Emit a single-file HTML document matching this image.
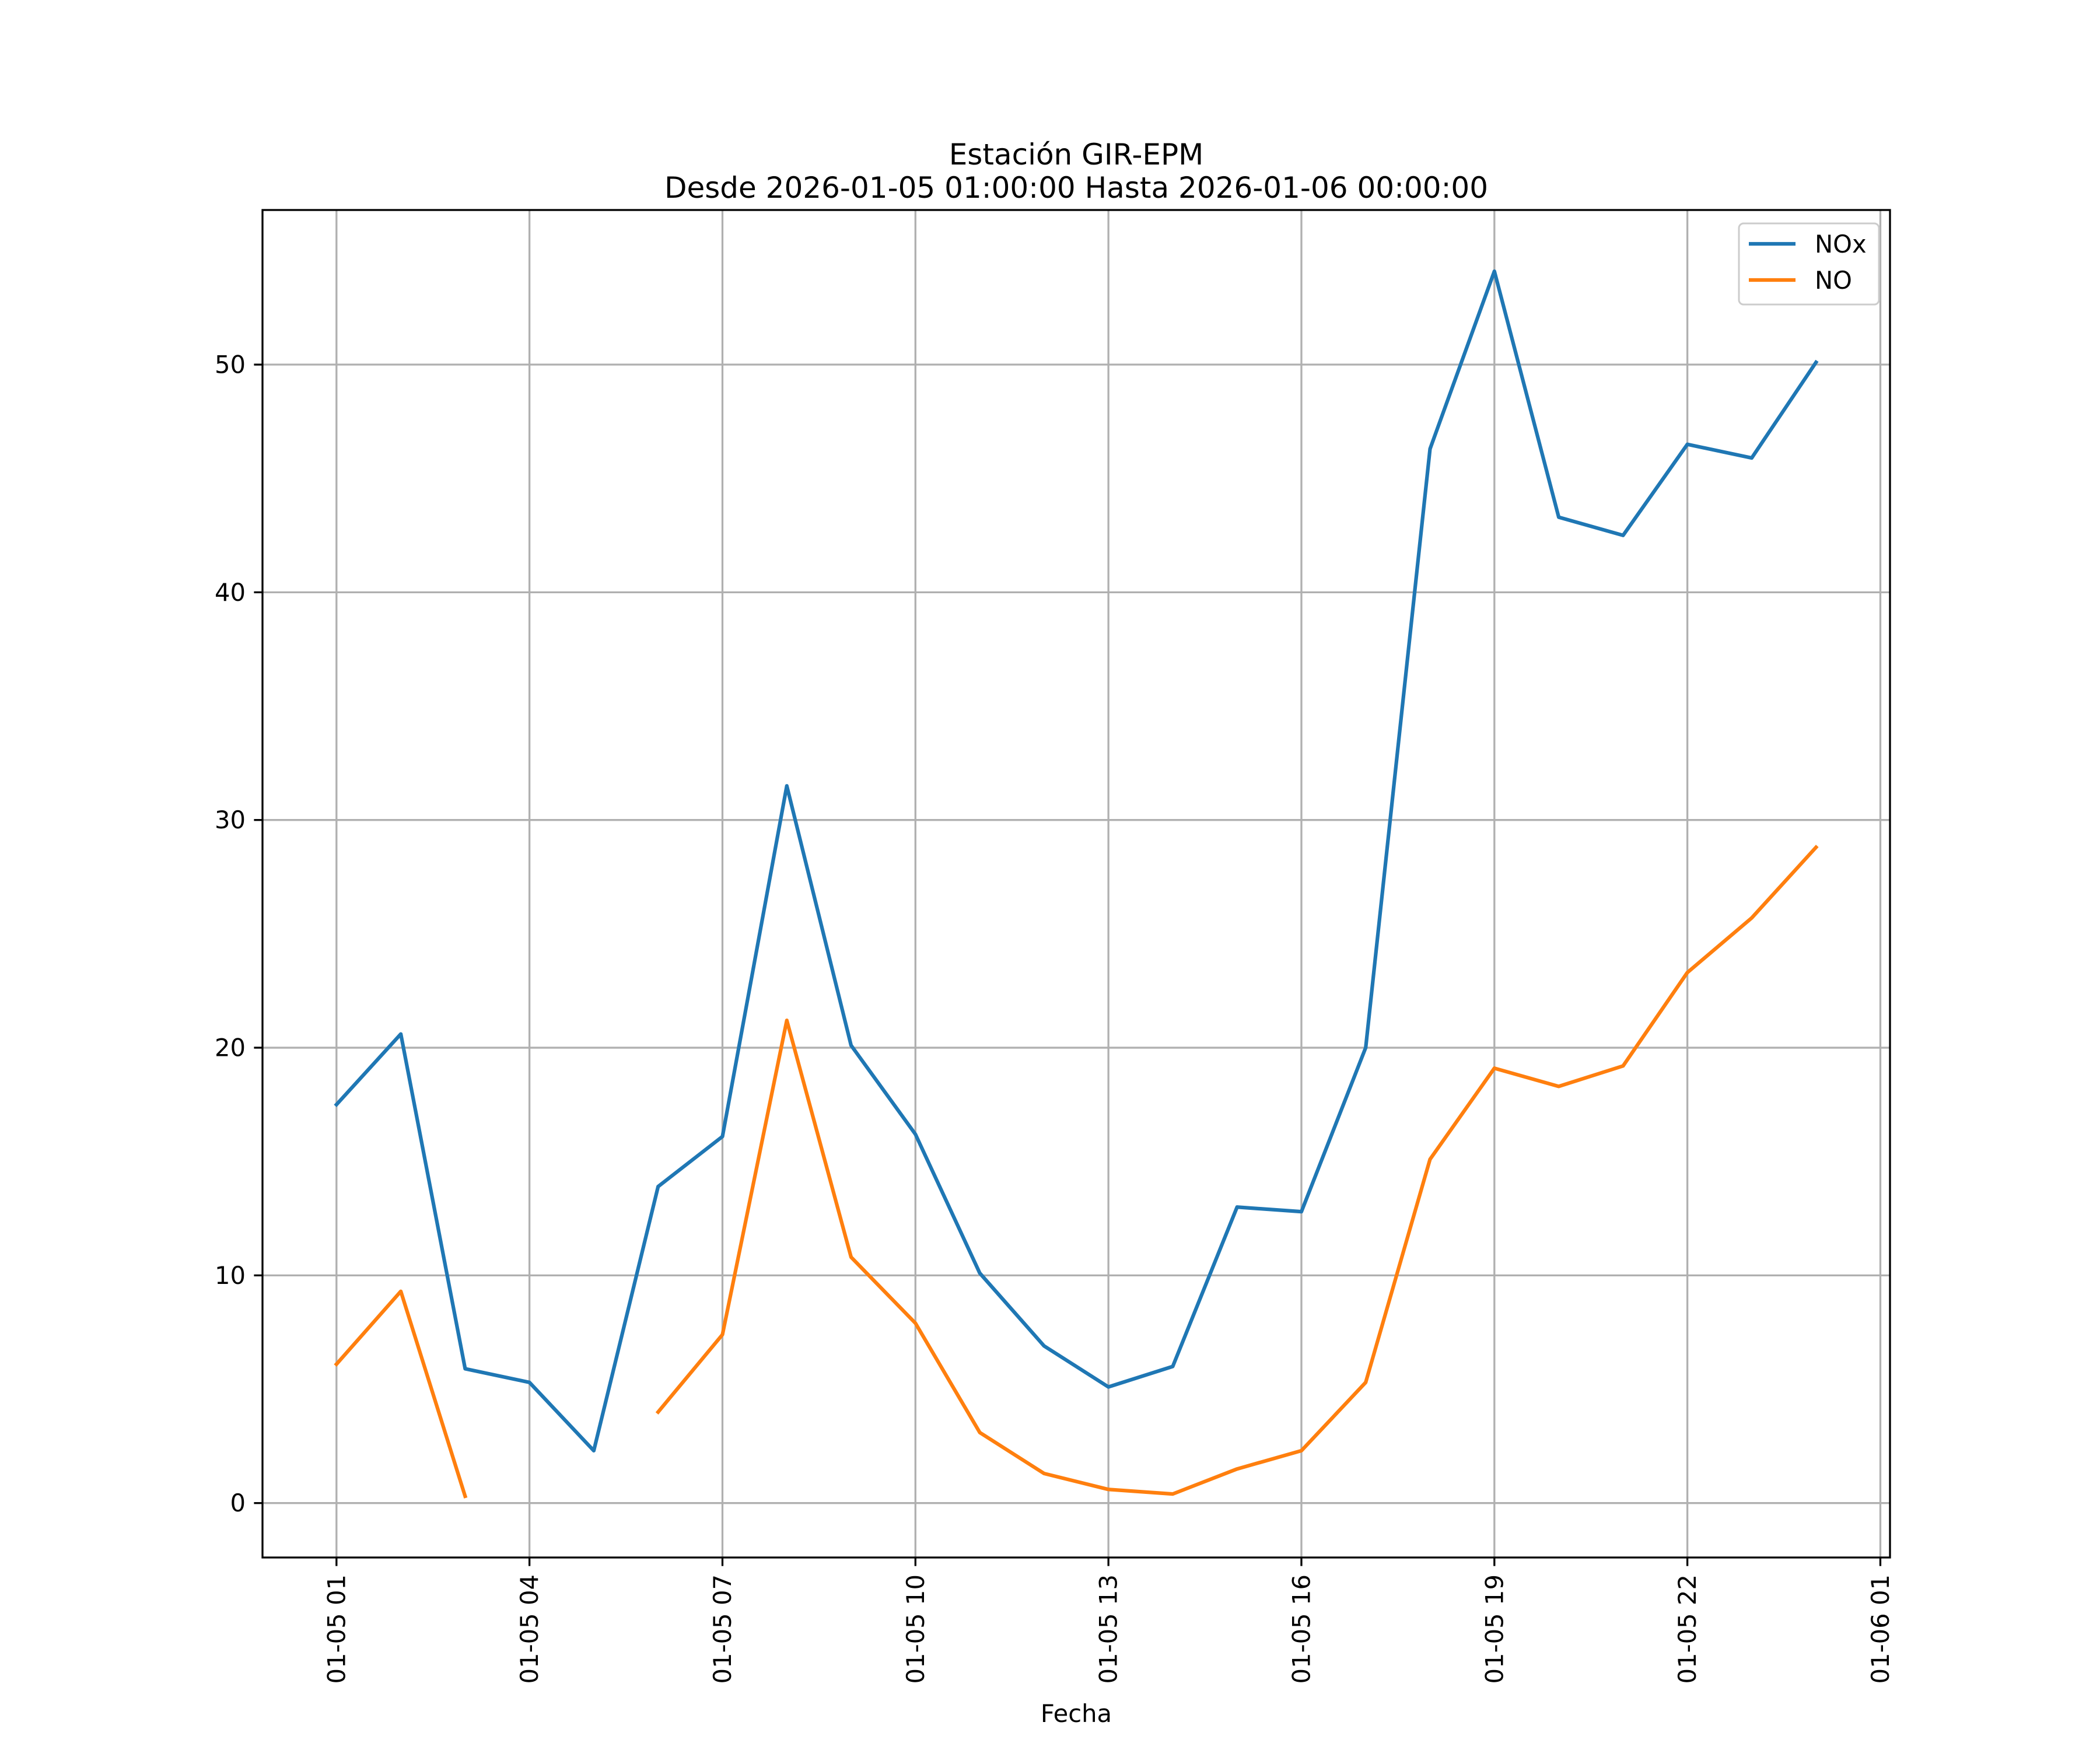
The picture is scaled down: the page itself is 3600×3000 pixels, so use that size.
<!DOCTYPE html>
<html><head><meta charset="utf-8"><style>body{margin:0;background:#fff}svg{display:block;font-family:"DejaVu Sans","Liberation Sans",sans-serif}</style></head>
<body>
<svg id="chart" width="3600" height="3000" viewBox="0 0 3600 3000" xmlns="http://www.w3.org/2000/svg">
<rect width="3600" height="3000" fill="#fff"/>
<text x="1845" y="282" font-size="50" text-anchor="middle">Estación GIR-EPM</text>
<text x="1845" y="339" font-size="50" text-anchor="middle">Desde 2026-01-05 01:00:00 Hasta 2026-01-06 00:00:00</text>
<g id="grid"></g><g id="series"></g><g id="axes"></g>
<text x="1845" y="2952" font-size="41.7" text-anchor="middle">Fecha</text>
<g transform="translate(-14,0)">
<rect x="2995" y="383" width="240" height="139" rx="8" fill="#fff" fill-opacity="0.8" stroke="#ccc" stroke-width="3"/>
<line x1="3012" y1="418" x2="3092" y2="418" stroke="#1f77b4" stroke-width="6.25"/>
<text x="3125" y="433" font-size="41.7">NOx</text>
<line x1="3012" y1="480" x2="3092" y2="480" stroke="#ff7f0e" stroke-width="6.25"/>
<text x="3125" y="495" font-size="41.7">NO</text>
</g>
</svg>
<script>
const hours = [0,1,2,3,4,5,6,7,8,9,10,11,12,13,14,15,16,17,18,19,20,21,22,23];
const noxValues = [17.5,20.6,5.9,5.3,2.3,13.9,16.1,31.5,20.1,16.2,10.1,6.9,5.1,6.0,13.0,12.8,20.0,46.3,54.1,43.3,42.5,46.5,45.9,50.1];
const noValues = [6.1,9.3,0.3,null,null,4.0,7.4,21.2,10.8,7.9,3.1,1.3,0.6,0.4,1.5,2.3,5.3,15.1,19.1,18.3,19.2,23.3,25.7,28.8];
const yTicks = [0,10,20,30,40,50];
const xTickHours = [0,3,6,9,12,15,18,21,24];
const xTickLabels = ["01-05 01","01-05 04","01-05 07","01-05 10","01-05 13","01-05 16","01-05 19","01-05 22","01-06 01"];

const L=450,R=3240,T=360,B=2670;
const xMin=-1.15,xMax=24.15,yMin=-2.39,yMax=56.79;
const xs=h=>L+(h-xMin)/(xMax-xMin)*(R-L);
const ys=v=>B-(v-yMin)/(yMax-yMin)*(B-T);
const NS="http://www.w3.org/2000/svg";
function mk(tag,attrs,parent){const e=document.createElementNS(NS,tag);for(const k in attrs)e.setAttribute(k,attrs[k]);parent.appendChild(e);return e;}
const grid=document.getElementById('grid'),axes=document.getElementById('axes'),series=document.getElementById('series');
xTickHours.forEach((h,i)=>{const x=xs(h);
 const g=mk('line',{x1:x,x2:x,y1:T,y2:B,stroke:'#b0b0b0','stroke-width':3.3},grid);
 
 
 const t=mk('line',{x1:x,x2:x,y1:B,y2:B+14.6,stroke:'#000','stroke-width':3.3},axes);
 
 
 const tx=mk('text',{x:0,y:0,'font-size':41.7,'text-anchor':'end','dominant-baseline':'central',transform:`translate(${x},${B+29}) rotate(-90)`},axes);
 tx.textContent=xTickLabels[i];
 
 
});
yTicks.forEach(v=>{const y=ys(v);
 const g=mk('line',{x1:L,x2:R,y1:y,y2:y,stroke:'#b0b0b0','stroke-width':3.3},grid);
 
 
 const t=mk('line',{x1:L-14.6,x2:L,y1:y,y2:y,stroke:'#000','stroke-width':3.3},axes);
 
 
 const tx=mk('text',{x:L-29,y:y,'font-size':41.7,'text-anchor':'end','dominant-baseline':'central'},axes);
 tx.textContent=v;
 
 
});
const frame=mk('rect',{x:L,y:T,width:R-L,height:B-T,fill:'none',stroke:'#000','stroke-width':3.3},axes);


function draw(vals,color,name){
 let d='',pen=false;
 vals.forEach((v,i)=>{if(v===null){pen=false;return;}d+=(pen?'L':'M')+xs(hours[i]).toFixed(1)+' '+ys(v).toFixed(1)+' ';pen=true;});
 const p=mk('path',{d:d,fill:'none',stroke:color,'stroke-width':6.25,'stroke-linejoin':'round','stroke-linecap':'square'},series);
 
 
}
draw(noxValues,'#1f77b4','nox-line');
draw(noValues,'#ff7f0e','no-line');
</script>
</body></html>
